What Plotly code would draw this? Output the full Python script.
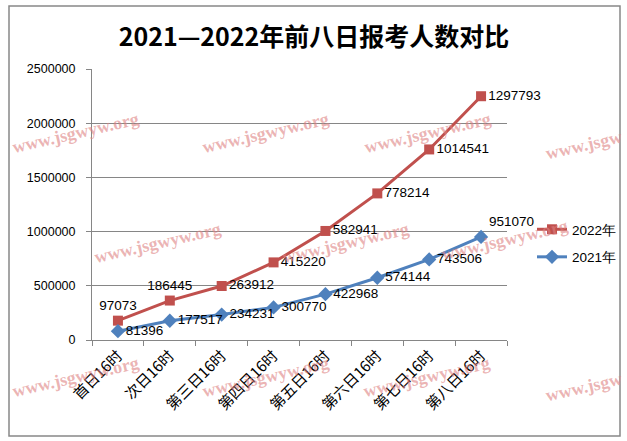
import numpy as np
import plotly.graph_objects as go

categories = ["首日16时", "次日16时", "第三日16时", "第四日16时",
              "第五日16时", "第六日16时", "第七日16时", "第八日16时"]
y2021 = [81396, 177517, 234231, 300770, 422968, 574144, 743506, 951070]
y2022 = [97073, 186445, 263912, 415220, 582941, 778214, 1014541, 1297793]
series_names = ["2022年", "2021年"]
y_ticks = [0, 500000, 1000000, 1500000, 2000000, 2500000]

# stacked line chart (2022 stacked on top of 2021)
stack2022 = (np.array(y2021) + np.array(y2022)).tolist()

W, H = 627, 441
L, R, T, B = 92, 507, 69, 340


def px(xp):
    return (xp - L) / (R - L)


def py(yp):
    return (B - yp) / (B - T)


RED = "#C0504D"
BLUE = "#4F81BD"
LABEL_FONT = dict(family="Liberation Sans, Arial", size=13.5, color="#000000")

fig = go.Figure()

pos2022 = ["top center", "top center"] + ["middle right"] * 6
pos2021 = ["middle right"] * 7 + ["top right"]

fig.add_trace(go.Scatter(
    x=categories, y=stack2022, name=series_names[0], legendgroup="g1",
    mode="lines+markers+text",
    line=dict(color=RED, width=3),
    marker=dict(symbol="square", size=10, color=RED),
    text=[str(v) for v in y2022], textposition=pos2022,
    textfont=LABEL_FONT, cliponaxis=False,
))
fig.add_trace(go.Scatter(
    x=categories, y=y2021, name=series_names[1], legendgroup="g2",
    mode="lines+markers+text",
    line=dict(color=BLUE, width=3),
    marker=dict(symbol="diamond", size=11, color=BLUE),
    text=[str(v) for v in y2021], textposition=pos2021,
    textfont=LABEL_FONT, cliponaxis=False,
))

# watermark positions (pixel centers) and visible text
wm_full = "<b>www.jsgwyw.org</b>"
wm_cut = "<b>www.jsgw</b>"
wm = [(75, 133, wm_full), (265, 133, wm_full), (427, 133, wm_full),
      (584, 145, wm_cut),
      (157, 243, wm_full), (345, 243, wm_full), (504, 240, wm_full),
      (75, 377, wm_full), (265, 377, wm_full), (426, 377, wm_full),
      (584, 387, wm_cut)]
annotations = []
for (xp, yp, t) in wm:
    annotations.append(dict(
        x=px(xp), y=py(yp), xref="paper", yref="paper",
        text=t, showarrow=False, textangle=-13,
        font=dict(family="Liberation Serif, serif", size=18,
                  color="rgba(222,130,130,0.6)"),
        xanchor="center", yanchor="middle",
    ))

fig.update_layout(
    width=W, height=H,
    margin=dict(l=L, r=W - R, t=T, b=H - B, autoexpand=False),
    paper_bgcolor="white", plot_bgcolor="white",
    title=dict(text="<b>2021—2022年前八日报考人数对比</b>",
               x=314 / W, xref="container", xanchor="center",
               y=1 - 37 / H, yref="container", yanchor="middle",
               font=dict(family="Noto Sans CJK SC", size=25, color="#000000")),
    showlegend=True,
    legend=dict(x=px(532), y=py(214), xanchor="left", yanchor="top",
                traceorder="grouped", tracegroupgap=7,
                font=dict(family="Liberation Sans, Arial", size=13.5, color="#000"),
                bgcolor="rgba(0,0,0,0)", itemwidth=30),
    annotations=annotations,
    shapes=[dict(type="rect", xref="paper", yref="paper",
                 x0=px(9), x1=px(620), y0=py(436), y1=py(6),
                 line=dict(color="#888888", width=1.5), layer="below")],
)

fig.update_xaxes(
    type="category", range=[-0.5, 7.5], tickson="boundaries",
    ticks="outside", ticklen=5, tickcolor="#868686",
    showline=True, linecolor="#868686", linewidth=1,
    showgrid=False, tickangle=-45,
    tickfont=dict(family="Noto Sans CJK SC", size=15, color="#000"),
)
fig.update_yaxes(
    range=[0, 2500000], tickvals=y_ticks, tickformat="d",
    ticks="outside", ticklen=5, tickcolor="#868686",
    showline=True, linecolor="#868686", linewidth=1,
    showgrid=True, gridcolor="#868686", gridwidth=1,
    zeroline=False, ticklabelstandoff=8,
    tickfont=dict(family="Liberation Sans, Arial", size=12.5, color="#000"),
)

page_js = ("document.body.style.margin='0';"
           "document.body.style.overflow='hidden';"
           "document.documentElement.style.overflow='hidden';")
fig.write_html("out.html", config={"displayModeBar": False},
               post_script=page_js)
